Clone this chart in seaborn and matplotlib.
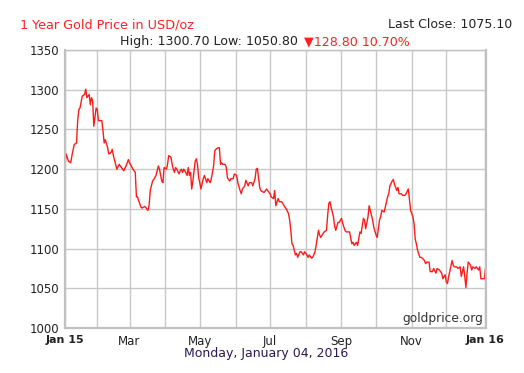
import matplotlib
matplotlib.use("Agg")
import matplotlib.pyplot as plt
import seaborn as sns
import pandas as pd

# Gold price data (days after 2015-01-04, USD/oz)
days = [0, 1, 3, 5, 6, 8, 10, 11, 12, 13, 15, 17, 18, 19, 21, 22, 23, 24, 25, 27,
        28, 29, 30, 32, 33, 34, 35, 37, 38, 40, 41, 42, 44, 45, 47, 49, 51, 53, 55, 56,
        59, 61, 62, 63, 64, 66, 67, 69, 70, 72, 73, 74, 76, 77, 79, 80, 81, 82, 84, 85,
        86, 88, 89, 90, 92, 93, 94, 95, 96, 97, 99, 100, 101, 102, 103, 104, 106, 107, 108, 109,
        110, 111, 113, 114, 115, 116, 117, 118, 120, 121, 123, 124, 126, 127, 129, 130, 131, 133, 134, 135,
        136, 137, 139, 140, 141, 143, 144, 146, 147, 149, 150, 152, 153, 154, 156, 157, 159, 160, 162, 163,
        165, 166, 167, 168, 169, 170, 172, 173, 175, 176, 178, 179, 181, 182, 183, 185, 186, 188, 189, 191,
        192, 194, 195, 196, 197, 198, 199, 200, 201, 202, 204, 205, 207, 208, 210, 211, 212, 214, 215, 217,
        218, 220, 221, 222, 224, 225, 227, 228, 229, 230, 231, 233, 234, 235, 237, 238, 240, 241, 243, 244,
        246, 247, 249, 250, 251, 253, 254, 256, 257, 259, 260, 261, 263, 264, 265, 267, 268, 270, 271, 273,
        274, 275, 277, 278, 280, 281, 282, 284, 285, 286, 288, 289, 290, 292, 293, 295, 296, 298, 299, 300,
        302, 303, 304, 305, 306, 308, 309, 310, 312, 313, 314, 316, 317, 319, 320, 322, 323, 325, 326, 327,
        328, 330, 331, 332, 333, 334, 336, 337, 338, 340, 341, 343, 344, 346, 347, 348, 349, 350, 352, 353,
        354, 356, 357, 359, 360, 361, 363, 364, 365]
prices = [1204, 1219, 1210, 1208, 1217, 1231, 1233, 1261, 1275, 1277, 1292, 1294, 1300.7, 1290, 1294, 1281, 1290, 1286, 1254, 1277,
          1275, 1261, 1261, 1261, 1248, 1233, 1237, 1227, 1219, 1221, 1225, 1217, 1206, 1200, 1206, 1202, 1198, 1204, 1212, 1208,
          1200, 1196, 1165, 1165, 1160, 1152, 1151, 1153, 1152, 1148, 1154, 1173, 1185, 1187, 1192, 1198, 1204, 1200, 1185, 1183,
          1202, 1200, 1206, 1217, 1215, 1206, 1200, 1196, 1202, 1200, 1194, 1198, 1200, 1196, 1200, 1198, 1192, 1202, 1192, 1196,
          1175, 1185, 1210, 1213, 1206, 1189, 1183, 1175, 1188, 1192, 1183, 1188, 1183, 1188, 1204, 1223, 1225, 1227, 1227, 1206,
          1208, 1206, 1206, 1202, 1189, 1185, 1188, 1188, 1194, 1192, 1183, 1173, 1169, 1175, 1179, 1186, 1179, 1183, 1183, 1179,
          1188, 1200, 1201, 1189, 1177, 1173, 1171, 1171, 1175, 1173, 1169, 1165, 1163, 1173, 1154, 1163, 1159, 1159, 1157, 1152,
          1150, 1144, 1136, 1123, 1106, 1104, 1098, 1092, 1094, 1089, 1096, 1096, 1092, 1096, 1092, 1089, 1092, 1088, 1089, 1096,
          1104, 1123, 1117, 1114, 1119, 1121, 1123, 1142, 1157, 1159, 1152, 1140, 1129, 1123, 1133, 1133, 1138, 1132, 1123, 1121,
          1121, 1121, 1106, 1108, 1104, 1108, 1104, 1121, 1119, 1138, 1136, 1125, 1140, 1154, 1148, 1136, 1127, 1117, 1114, 1136,
          1140, 1148, 1146, 1152, 1165, 1169, 1179, 1185, 1187, 1181, 1173, 1177, 1169, 1169, 1167, 1167, 1169, 1175, 1161, 1148,
          1140, 1131, 1112, 1106, 1098, 1089, 1089, 1088, 1085, 1081, 1083, 1083, 1071, 1071, 1075, 1069, 1075, 1073, 1071, 1069,
          1062, 1067, 1058, 1056, 1065, 1071, 1085, 1079, 1077, 1077, 1075, 1077, 1065, 1077, 1065, 1050.8, 1069, 1083, 1079, 1073,
          1077, 1075, 1077, 1073, 1077, 1062, 1062, 1062, 1075.1]

start = pd.Timestamp("2015-01-04")
end = pd.Timestamp("2016-01-04")
df = pd.DataFrame({"date": start + pd.to_timedelta(days, unit="D"), "price": prices})

tick_dates = [start, pd.Timestamp("2015-03-01"), pd.Timestamp("2015-05-01"), pd.Timestamp("2015-07-01"),
              pd.Timestamp("2015-09-01"), pd.Timestamp("2015-11-01"), end]
tick_labels = ["Jan 15", "Mar", "May", "Jul", "Sep", "Nov", "Jan 16"]
minor_dates = [pd.Timestamp(f"2015-{m:02d}-01") for m in (2, 4, 6, 8, 10, 12)]
y_ticks = [1000, 1050, 1100, 1150, 1200, 1250, 1300, 1350]

sns.set_style("white")
plt.rcParams["font.family"] = ["DejaVu Sans"]

W, H = 524, 373
fig = plt.figure(figsize=(W / 100, H / 100), dpi=100)
ax = fig.add_axes([65 / W, (H - 328) / H, (485.5 - 65) / W, (328 - 50) / H])

sns.lineplot(data=df, x="date", y="price", ax=ax, color="#ff1a1a", linewidth=1.0)

ax.set_xlim(start, end)
ax.set_ylim(1000, 1350)
ax.set_xticks(tick_dates)
ax.set_xticklabels(tick_labels)
ax.set_xticks(minor_dates, minor=True)
ax.set_yticks(y_ticks)
ax.set_xlabel("")
ax.set_ylabel("")

grid_c = "#c8c8c8"
ax.grid(True, which="both", color=grid_c, linewidth=1.0)
ax.set_axisbelow(True)
for side in ["left", "bottom", "right", "top"]:
    ax.spines[side].set_color("#c0c0c0")
    ax.spines[side].set_linewidth(1.6)
ax.spines["top"].set_linewidth(1.0)

ax.tick_params(axis="x", which="major", length=3, color="#c0c0c0", labelsize=8.5, labelcolor="#222222", pad=2)
ax.tick_params(axis="x", which="minor", length=0)
ax.tick_params(axis="y", length=3, color="#c0c0c0", labelsize=8.5, labelcolor="#222222", pad=1)
labels = ax.get_xticklabels()
for lab in (labels[0], labels[-1]):
    lab.set_fontweight("bold")
    lab.set_fontsize(8)

# header texts
fig.text(20 / W, 1 - 25 / H, "1 Year Gold Price in USD/oz", color="#ff2020", fontsize=9.2, ha="left", va="center")
fig.text(512 / W, 1 - 25 / H, "Last Close: 1075.10", color="#222222", fontsize=9.0, ha="right", va="center")
fig.text(298 / W, 1 - 42 / H, "High: 1300.70 Low: 1050.80", color="#222222", fontsize=9.1, ha="right", va="center")
fig.text(304 / W, 1 - 42 / H, "\u25bc128.80 10.70%", color="#ff2020", fontsize=9.1, ha="left", va="center")

ax.text(0.995, 0.01, "goldprice.org", transform=ax.transAxes, color="#333333", fontsize=8.8, ha="right", va="bottom")
fig.text(266 / W, 1 - 354 / H, "Monday, January 04, 2016", color="#2a1a55", fontsize=9.0, ha="center", va="center")

fig.savefig("out.png", dpi=100)
